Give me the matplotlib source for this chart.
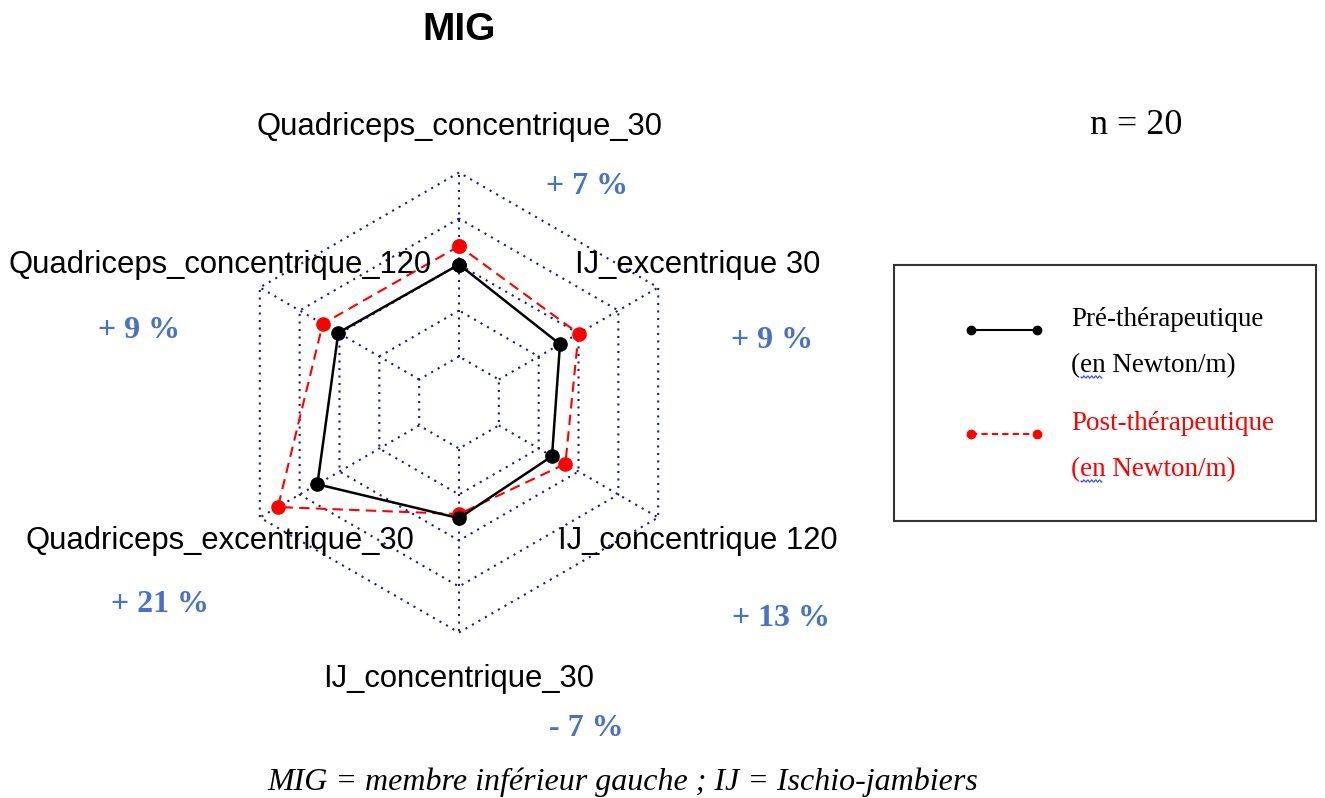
import numpy as np
import matplotlib.pyplot as plt
from matplotlib.patches import Rectangle

# ── data (radius as fraction of the outer ring; inner ring = axis minimum) ──
labels = ['Quadriceps_concentrique_30', 'Quadriceps_concentrique_120',
          'Quadriceps_excentrique_30', 'IJ_concentrique_30',
          'IJ_concentrique 120', 'IJ_excentrique 30']
pre = [0.60, 0.606, 0.711, 0.503, 0.467, 0.507]
post = [0.68, 0.684, 0.909, 0.485, 0.534, 0.60]
gains = ['+ 7 %', '+ 9 %', '+ 21 %', '- 7 %', '+ 13 %', '+ 9 %']
n_rings = 5

W, H = 1325, 798
cx, cy, R = 459, 402.5, 230   # centre and outer radius in pixels

fig = plt.figure(figsize=(W / 100, H / 100), dpi=100)
ax = fig.add_axes([0, 0, 1, 1])
ax.set_xlim(-cx / R, (W - cx) / R)
ax.set_ylim((cy - H) / R, cy / R)
ax.axis('off')

def px(x, y):
    # pixel position -> figure fraction
    return x / W, 1 - y / H

ang = np.deg2rad(90 + 60 * np.arange(len(labels)))
cosA, sinA = np.cos(ang), np.sin(ang)

grid_col = '#1a1a8c'
dots = (0, (1, 2.6))
for k in range(1, n_rings + 1):
    r = k / n_rings
    ax.plot(np.append(r * cosA, r * cosA[0]), np.append(r * sinA, r * sinA[0]),
            color=grid_col, lw=1.5, ls=dots, zorder=1)
for c, s in zip(cosA, sinA):
    ax.plot([c / n_rings, c], [s / n_rings, s], color=grid_col, lw=1.5, ls=dots, zorder=1)

pre_a = np.array(pre)
post_a = np.array(post)
ax.plot(np.append(post_a * cosA, post_a[0] * cosA[0]),
        np.append(post_a * sinA, post_a[0] * sinA[0]),
        color='red', lw=1.5, ls=(0, (5, 3)), marker='o', ms=9.5, mfc='red', mec='red', zorder=3)
ax.plot(np.append(pre_a * cosA, pre_a[0] * cosA[0]),
        np.append(pre_a * sinA, pre_a[0] * sinA[0]),
        color='black', lw=1.8, marker='o', ms=9.5, mfc='black', mec='black', zorder=4)

# axis labels at 1.2 × radius
for lbl, c, s in zip(labels, cosA, sinA):
    ax.text(1.2 * c, 1.2 * s, lbl, ha='center', va='center', fontsize=22.3,
            family='Liberation Sans', color='black', zorder=5)

# percentage changes
gain_pos = [(587, 187), (139, 331), (160, 605), (586, 729), (781, 618), (772, 340)]
for g, (x, y) in zip(gains, gain_pos):
    fig.text(*px(x, y), g, ha='center', va='center', fontsize=23, fontweight='bold',
             family='Liberation Serif', color='#4a72c4')

fig.text(*px(459, 30), 'MIG', ha='center', va='center', fontsize=28,
         fontweight='bold', family='Liberation Sans')
fig.text(*px(1136, 125), 'n = 20', ha='center', va='center', fontsize=26,
         family='Liberation Serif')

# legend box
x0, y0 = px(894, 521)
x1, y1 = px(1316, 265)
fig.patches.append(Rectangle((x0, y0), x1 - x0, y1 - y0, transform=fig.transFigure,
                             fill=False, ec='#333333', lw=1.5))
for col, ls, ly, t1 in [('black', '-', 330, 'Pré-thérapeutique'),
                        ('red', (0, (3, 2)), 434, 'Post-thérapeutique')]:
    xa, ya = px(971, ly)
    xb, _ = px(1037, ly)
    fig.add_artist(plt.Line2D([xa, xb], [ya, ya], transform=fig.transFigure,
                              color=col, lw=1.5, ls=ls, marker='o', ms=6,
                              mfc=col, mec=col))
    fig.text(*px(1071, ly - 10), t1, ha='left', va='center', fontsize=19.5,
             family='Liberation Serif', color=col)
    fig.text(*px(1071, ly + 36), '(en Newton/m)', ha='left', va='center', fontsize=19.5,
             family='Liberation Serif', color=col)
    # spell-check squiggle under "en"
    wx = np.linspace(1081, 1102, 25)
    wy = ly + 47 + 1.2 * np.sin((wx - 1081) * 1.6)
    fig.add_artist(plt.Line2D(wx / W, 1 - wy / H, transform=fig.transFigure,
                              color='#3344dd', lw=0.8))

fig.text(*px(623, 782), 'MIG = membre inférieur gauche ; IJ = Ischio-jambiers',
         ha='center', va='center', fontsize=23, style='italic', family='Liberation Serif')

fig.savefig('out.png', dpi=100)
